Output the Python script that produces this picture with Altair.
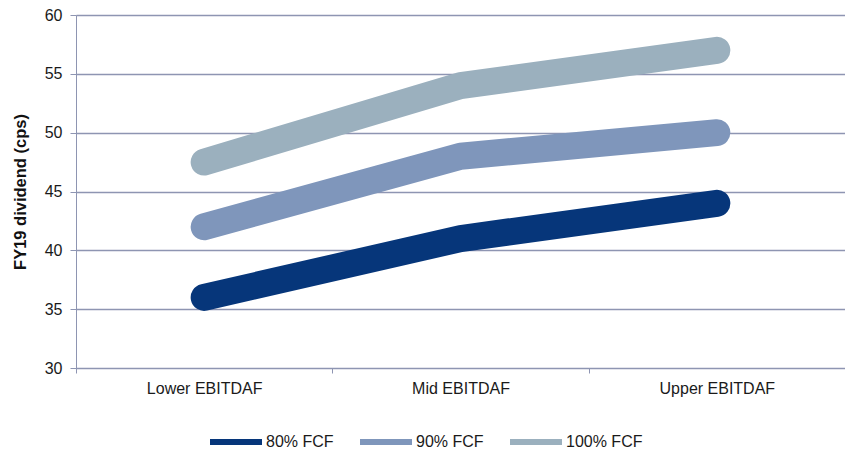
import altair as alt
import pandas as pd

categories = ["Lower EBITDAF", "Mid EBITDAF", "Upper EBITDAF"]
series = ["80% FCF", "90% FCF", "100% FCF"]
fcf80 = [36.0, 41.0, 44.0]
fcf90 = [42.0, 48.0, 50.0]
fcf100 = [47.5, 54.0, 57.0]
colors = ["#06367A", "#7F96BB", "#9BB0BE"]

rows = []
for name, vals in zip(series, [fcf80, fcf90, fcf100]):
    for c, v in zip(categories, vals):
        rows.append({"scenario": c, "series": name, "value": v})
df = pd.DataFrame(rows)

font = "Liberation Sans"
grid_col = "#8E95B2"

chart = (
    alt.Chart(df)
    .mark_line(strokeWidth=27, strokeCap="round", strokeJoin="round")
    .encode(
        x=alt.X(
            "scenario:N",
            sort=categories,
            scale=alt.Scale(type="band", paddingInner=0, paddingOuter=0),
            axis=alt.Axis(
                title=None,
                labelAngle=0,
                tickBand="extent",
                tickSize=5,
                labelPadding=7,
                grid=False,
                domainColor=grid_col,
                tickColor=grid_col,
                labelFont=font,
                labelFontSize=16,
                labelColor="#1a1a1a",
            ),
        ),
        y=alt.Y(
            "value:Q",
            scale=alt.Scale(domain=[30, 60], nice=False, zero=False),
            axis=alt.Axis(
                title="FY19 dividend (cps)",
                values=[30, 35, 40, 45, 50, 55, 60],
                tickSize=6,
                labelPadding=8,
                grid=True,
                gridColor=grid_col,
                gridWidth=1.5,
                domainColor=grid_col,
                tickColor=grid_col,
                labelFont=font,
                labelFontSize=16,
                labelColor="#1a1a1a",
                titleFont=font,
                titleFontSize=16.5,
                titleFontWeight="bold",
                titleColor="#111111",
                titlePadding=16,
            ),
        ),
        color=alt.Color(
            "series:N",
            sort=series,
            scale=alt.Scale(domain=series, range=colors),
            legend=alt.Legend(
                title=None,
                orient="none",
                legendX=131,
                legendY=398,
                direction="horizontal",
                symbolType="stroke",
                symbolSize=2704,
                symbolStrokeWidth=6,
                labelFont=font,
                labelFontSize=16,
                labelColor="#1a1a1a",
                labelOffset=1,
                columnPadding=14,
            ),
        ),
        detail="series:N",
    )
    .properties(
        width=769,
        height=353,
        padding={"left": 76, "top": 15, "right": 0, "bottom": 82},
        autosize=alt.AutoSizeParams(type="none"),
    )
    .configure_view(stroke=None)
    .configure(background="white")
)

chart.save("out.html", embed_options={"renderer": "svg", "actions": False})
